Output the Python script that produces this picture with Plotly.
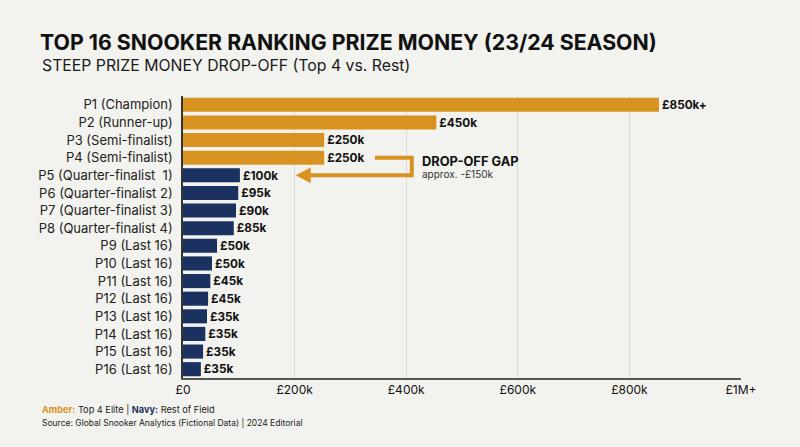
import plotly.graph_objects as go

categories = ["P1 (Champion)", "P2 (Runner-up)", "P3 (Semi-finalist)", "P4 (Semi-finalist)",
              "P5 (Quarter-finalist  1)", "P6 (Quarter-finalist 2)", "P7 (Quarter-finalist 3)",
              "P8 (Quarter-finalist 4)", "P9 (Last 16)", "P10 (Last 16)", "P11 (Last 16)",
              "P12 (Last 16)", "P13 (Last 16)", "P14 (Last 16)", "P15 (Last 16)", "P16 (Last 16)"]
values_k = [853, 454, 253, 253, 102, 99, 95, 91, 61, 52, 49, 45, 43, 40, 36, 32]
value_labels = ["£850k+", "£450k", "£250k", "£250k", "£100k", "£95k", "£90k", "£85k",
                "£50k", "£50k", "£45k", "£45k", "£35k", "£35k", "£35k", "£35k"]
groups = ["top"] * 4 + ["rest"] * 12
tick_vals = [0, 200, 400, 600, 800, 1000]
tick_text = ["£0", "£200k", "£400k", "£600k", "£800k", "£1M+"]

AMBER = "#D8921F"
NAVY = "#1B3260"
BG = "#F2F2EE"
FONT = "Inter, Open Sans, sans-serif"

colors = [AMBER if g == "top" else NAVY for g in groups]

fig = go.Figure()
fig.add_trace(go.Bar(
    y=categories, x=values_k, orientation="h",
    marker=dict(color=colors, line=dict(width=0)),
    text=value_labels, textposition="outside", cliponaxis=False,
    textfont=dict(family=FONT, size=12.5, color="#111111", weight="bold"),
    hoverinfo="skip", width=0.8,
))

# drop-off gap connector (P4 -> P5)
gap_start, gap_corner, gap_tip = 344, 410, 202
fig.add_shape(type="path",
              path=f"M {gap_start} 3 L {gap_corner} 3 L {gap_corner} 4 L {gap_tip + 22} 4",
              xref="x", yref="y", line=dict(color=AMBER, width=4))
fig.add_shape(type="path",
              path=f"M {gap_tip} 4 L {gap_tip + 27} 3.55 L {gap_tip + 27} 4.45 Z",
              xref="x", yref="y", fillcolor=AMBER, line=dict(color=AMBER, width=0))
fig.add_annotation(x=425, y=3.2, xref="x", yref="y", text="<b>DROP-OFF GAP</b>",
                   showarrow=False, xanchor="left", yanchor="middle",
                   font=dict(family=FONT, size=12.8, color="#111111"))
fig.add_annotation(x=425, y=3.95, xref="x", yref="y", text="approx. -£150k",
                   showarrow=False, xanchor="left", yanchor="middle",
                   font=dict(family=FONT, size=10, color="#333333"))

fig.update_layout(
    width=800, height=447,
    paper_bgcolor=BG, plot_bgcolor=BG,
    margin=dict(l=183, r=59, t=96, b=69),
    showlegend=False,
    title=dict(text="<b>TOP 16 SNOOKER RANKING PRIZE MONEY (23/24 SEASON)</b>",
               x=40 / 800, xanchor="left", y=1 - 43 / 447, yanchor="middle",
               xref="container", yref="container",
               font=dict(family=FONT, size=21.3, color="#111111")),
    xaxis=dict(range=[0, 1000], tickvals=tick_vals, ticktext=tick_text,
               showgrid=True, gridcolor="#DCDCD8", gridwidth=1, zeroline=False,
               showline=True, linecolor="#555555", linewidth=1.5, ticks="",
               tickfont=dict(family=FONT, size=12, color="#111111"), fixedrange=True),
    yaxis=dict(autorange="reversed", showgrid=False, showline=True, linecolor="#333333",
               linewidth=1.5, ticks="", ticklabelstandoff=6,
               tickfont=dict(family=FONT, size=13, color="#222222")),
    bargap=0.2,
)

H_PLOT = 447 - 96 - 69
W_PLOT = 800 - 183 - 59
def fig_ann(text, px, py, size, color="#111111"):
    fig.add_annotation(text=text, x=(px - 183) / W_PLOT, y=(447 - 69 - py) / H_PLOT,
                       xref="paper", yref="paper", xanchor="left", yanchor="middle",
                       showarrow=False, font=dict(family=FONT, size=size, color=color))

fig_ann("STEEP PRIZE MONEY DROP-OFF (Top 4 vs. Rest)", 40, 66, 15.8, "#1a1a1a")
fig_ann(f"<b><span style='color:{AMBER}'>Amber:</span></b> Top 4 Elite | "
        f"<b><span style='color:{NAVY}'>Navy:</span></b> Rest of Field", 40, 409, 9.2, "#1a1a1a")
fig_ann("Source: Global Snooker Analytics (Fictional Data) | 2024 Editorial", 40, 422, 8.5, "#1a1a1a")

fig.write_html("out.html", config={"displayModeBar": False})
with open("out.html", encoding="utf-8") as f:
    html = f.read()
html = html.replace("<body>", "<body style=\"margin:0;padding:0;\">", 1)
with open("out.html", "w", encoding="utf-8") as f:
    f.write(html)
